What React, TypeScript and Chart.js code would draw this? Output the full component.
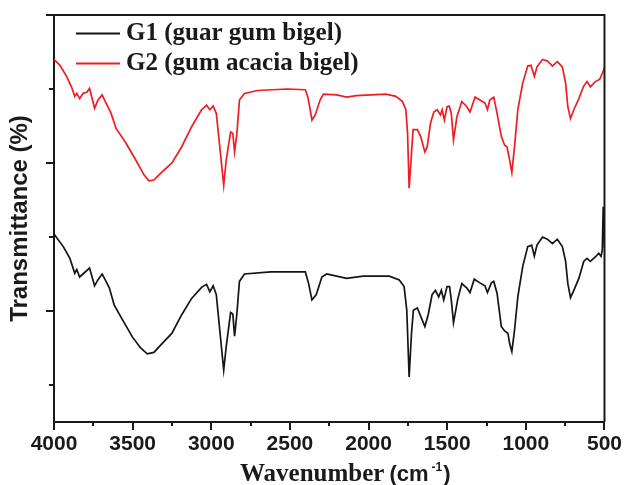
import React, { useEffect, useRef } from 'react';
import { Chart, registerables } from 'chart.js';

Chart.register(...registerables);

// ---- data ----
const xTickLabels = [4000, 3500, 3000, 2500, 2000, 1500, 1000, 500];
const xMinorTicks = [3750, 3250, 2750, 2250, 1750, 1250, 750];
const yMajorTicks = [20, 40, 60];
const yMinorTicks = [10, 30, 50];
const seriesNames = ['G1 (guar gum bigel)', 'G2 (gum acacia bigel)'];
const seriesColors = ['#141414', '#ee1d23'];
const xTitleParts = ['Wavenumber', '(cm', '-1', ')'];
const yTitle = 'Transmittance (%)';

const g1Wavenumber = [
  4000, 3941, 3899, 3868, 3855, 3837, 3816, 3774, 3742, 3721, 3694, 3669, 3648, 3617, 3564, 3502,
  3449, 3407, 3365, 3313, 3250, 3188, 3125, 3062, 3030, 3009, 2988, 2968, 2946, 2921, 2905, 2877,
  2863, 2852, 2837, 2821, 2789, 2622, 2402, 2381, 2360, 2333, 2297, 2266, 2140, 2035, 1868, 1805,
  1774, 1757, 1742, 1727, 1715, 1690, 1663, 1642, 1621, 1596, 1575, 1554, 1537, 1522, 1501, 1485,
  1474, 1460, 1432, 1407, 1375, 1355, 1328, 1292, 1260, 1244, 1219, 1204, 1183, 1156, 1135, 1114,
  1103, 1089, 1072, 1051, 1020, 988, 963, 946, 929, 894, 863, 831, 800, 768, 747, 733, 716, 695,
  663, 632, 611, 590, 558, 537, 522, 514, 508, 504, 500,
];
const g1Transmittance = [
  30.4, 28.7, 27.1, 25.1, 25.6, 24.6, 25.0, 25.8, 23.4, 24.2, 25.0, 24.0, 23.1, 20.8, 18.8, 16.5,
  15.0, 14.2, 14.4, 15.6, 17.0, 19.5, 21.7, 23.2, 23.6, 22.6, 23.4, 22.2, 17.4, 12.0, 15.2, 19.8,
  19.6, 16.6, 19.7, 24.0, 25.0, 25.3, 25.3, 23.7, 21.5, 22.2, 24.6, 25.0, 24.4, 24.7, 24.7, 24.2,
  23.3, 20.1, 11.1, 17.0, 20.1, 20.4, 19.0, 17.9, 19.5, 22.2, 22.8, 21.9, 22.8, 21.5, 23.3, 23.3,
  21.5, 18.4, 21.7, 23.7, 23.1, 22.5, 24.3, 23.8, 23.4, 22.5, 23.8, 24.0, 22.4, 17.9, 17.3, 17.0,
  15.6, 14.5, 17.4, 21.9, 26.0, 28.7, 28.9, 27.4, 28.9, 30.0, 29.7, 29.1, 29.7, 28.7, 26.7, 23.7,
  21.8, 22.8, 24.4, 26.7, 27.1, 26.7, 27.3, 27.8, 27.4, 28.2, 34.1, 32.0, 28.5,
];

const g2Wavenumber = [
  4000, 3962, 3920, 3889, 3868, 3855, 3837, 3816, 3790, 3774, 3742, 3721, 3694, 3669, 3637, 3606,
  3543, 3480, 3428, 3397, 3365, 3313, 3250, 3188, 3125, 3062, 3030, 3009, 2988, 2968, 2946, 2921,
  2905, 2877, 2863, 2852, 2837, 2821, 2789, 2706, 2517, 2402, 2387, 2371, 2360, 2339, 2308, 2287,
  2203, 2140, 2077, 1889, 1826, 1784, 1763, 1752, 1742, 1727, 1717, 1690, 1669, 1642, 1627, 1606,
  1585, 1564, 1543, 1532, 1518, 1501, 1487, 1474, 1460, 1438, 1407, 1375, 1355, 1323, 1292, 1260,
  1244, 1229, 1204, 1183, 1156, 1135, 1120, 1103, 1089, 1072, 1051, 1020, 988, 967, 946, 929, 894,
  863, 831, 800, 768, 747, 733, 716, 695, 663, 632, 611, 590, 558, 531, 510, 500,
];
const g2Transmittance = [
  54.0, 53.2, 51.7, 50.3, 49.0, 49.4, 48.7, 49.4, 49.6, 50.1, 47.4, 48.5, 49.2, 48.1, 46.7, 44.7,
  42.7, 40.4, 38.4, 37.6, 37.7, 38.8, 40.0, 42.2, 44.9, 47.2, 47.8, 47.2, 47.7, 46.7, 42.2, 37.0,
  40.4, 44.2, 44.0, 41.5, 44.0, 48.5, 49.4, 49.8, 50.0, 49.9, 49.0, 47.2, 45.8, 46.5, 48.5, 49.3,
  49.2, 48.9, 49.1, 49.3, 49.0, 48.3, 47.2, 44.0, 36.6, 41.3, 44.5, 44.5, 43.6, 41.5, 42.2, 45.4,
  46.9, 47.2, 46.5, 47.2, 45.8, 47.6, 47.7, 46.7, 43.1, 46.3, 48.3, 47.6, 46.9, 48.9, 48.5, 48.1,
  47.2, 48.5, 48.9, 46.7, 43.6, 42.4, 42.2, 40.4, 38.7, 42.2, 47.2, 50.8, 53.1, 53.2, 51.7, 53.0, 54.0,
  53.8, 53.1, 53.7, 53.0, 50.8, 47.6, 46.0, 47.2, 48.7, 50.4, 51.0, 50.3, 51.0, 51.3, 52.3, 52.8,
];

const SANS = "'Liberation Sans', Arial, sans-serif";
const SERIF = "'Liberation Serif', 'Times New Roman', serif";

const decorPlugin = {
  id: 'decor',
  afterDraw(chart: any) {
    const { ctx, chartArea: a, scales } = chart;
    const xs = scales.x;
    const ys = scales.y;
    ctx.save();
    ctx.strokeStyle = '#1a1a1a';
    ctx.lineWidth = 2;
    ctx.beginPath();
    ctx.moveTo(a.left, a.top);
    ctx.lineTo(a.right, a.top);
    ctx.lineTo(a.right, a.bottom);
    ctx.stroke();

    ctx.beginPath();
    xTickLabels.forEach((w) => {
      const px = Math.round(xs.getPixelForValue(w));
      ctx.moveTo(px, a.bottom);
      ctx.lineTo(px, a.bottom + 8);
    });
    xMinorTicks.forEach((w) => {
      const px = Math.round(xs.getPixelForValue(w));
      ctx.moveTo(px, a.bottom);
      ctx.lineTo(px, a.bottom + 4);
    });
    yMajorTicks.forEach((v) => {
      const py = Math.round(ys.getPixelForValue(v));
      ctx.moveTo(a.left, py);
      ctx.lineTo(a.left - 8, py);
    });
    yMinorTicks.forEach((v) => {
      const py = Math.round(ys.getPixelForValue(v));
      ctx.moveTo(a.left, py);
      ctx.lineTo(a.left - 5, py);
    });
    ctx.stroke();

    // legend
    const legendY = [33.5, 63.5];
    seriesNames.forEach((name, i) => {
      ctx.strokeStyle = seriesColors[i];
      ctx.lineWidth = 2;
      ctx.beginPath();
      ctx.moveTo(a.left + 22, legendY[i]);
      ctx.lineTo(a.left + 66, legendY[i]);
      ctx.stroke();
      ctx.fillStyle = '#1a1a1a';
      ctx.font = `bold 25px ${SERIF}`;
      ctx.textBaseline = 'middle';
      ctx.textAlign = 'left';
      ctx.fillText(name, a.left + 72, legendY[i]);
    });

    // x-axis title with mixed fonts
    const fonts = [`bold 25px ${SERIF}`, `bold 22px ${SANS}`, `bold 12px ${SANS}`, `bold 22px ${SANS}`];
    const gaps = [5, 3, 1, 0];
    const widths = xTitleParts.map((t, i) => {
      ctx.font = fonts[i];
      return ctx.measureText(t).width;
    });
    const total = widths.reduce((s, w, i) => s + w + gaps[i], 0);
    let x = (a.left + a.right) / 2 + 16 - total / 2;
    const base = 481;
    ctx.fillStyle = '#1a1a1a';
    ctx.textBaseline = 'alphabetic';
    xTitleParts.forEach((t, i) => {
      ctx.font = fonts[i];
      ctx.fillText(t, x, i === 2 ? base - 10 : base);
      x += widths[i] + gaps[i];
    });
    ctx.restore();
  },
};

export default function App() {
  const ref = useRef<HTMLCanvasElement>(null);
  useEffect(() => {
    if (!ref.current) return;
    const chart = new Chart(ref.current, {
      type: 'line',
      data: {
        datasets: [
          {
            label: seriesNames[0],
            data: g1Wavenumber.map((w, i) => ({ x: w, y: g1Transmittance[i] })),
            borderColor: seriesColors[0],
            borderWidth: 1.7,
            pointRadius: 0,
            tension: 0,
            fill: false,
          },
          {
            label: seriesNames[1],
            data: g2Wavenumber.map((w, i) => ({ x: w, y: g2Transmittance[i] })),
            borderColor: seriesColors[1],
            borderWidth: 1.7,
            pointRadius: 0,
            tension: 0,
            fill: false,
          },
        ],
      },
      options: {
        responsive: false,
        animation: false,
        devicePixelRatio: 1,
        layout: { padding: { left: 0, top: 15, right: 21, bottom: 0 } },
        plugins: { legend: { display: false }, tooltip: { enabled: false } },
        scales: {
          x: {
            type: 'linear',
            reverse: true,
            min: 500,
            max: 4000,
            afterBuildTicks: (s: any) => {
              s.ticks = xTickLabels.map((v) => ({ value: v }));
            },
            afterFit: (s: any) => {
              s.height = 63;
            },
            ticks: {
              autoSkip: false,
              maxRotation: 0,
              padding: 10,
              color: '#1a1a1a',
              font: { family: SANS, size: 21, weight: 'bold' },
              callback: (v: any) => String(v),
            },
            grid: { drawOnChartArea: false, drawTicks: false },
            border: { display: true, color: '#1a1a1a', width: 2 },
          },
          y: {
            type: 'linear',
            min: 5,
            max: 60,
            afterFit: (s: any) => {
              s.width = 54;
            },
            ticks: { display: false },
            grid: { drawOnChartArea: false, drawTicks: false },
            border: { display: true, color: '#1a1a1a', width: 2 },
            title: {
              display: true,
              text: yTitle,
              color: '#1a1a1a',
              font: { family: SANS, size: 24, weight: 'bold' },
              padding: { top: 6, bottom: 0 },
            },
          },
        },
      },
      plugins: [decorPlugin],
    } as any);
    return () => chart.destroy();
  }, []);
  return (
    <div style={{ position: 'fixed', left: 0, top: 0, width: 632, height: 485, background: '#fff' }}>
      <canvas ref={ref} width={632} height={485} />
    </div>
  );
}
